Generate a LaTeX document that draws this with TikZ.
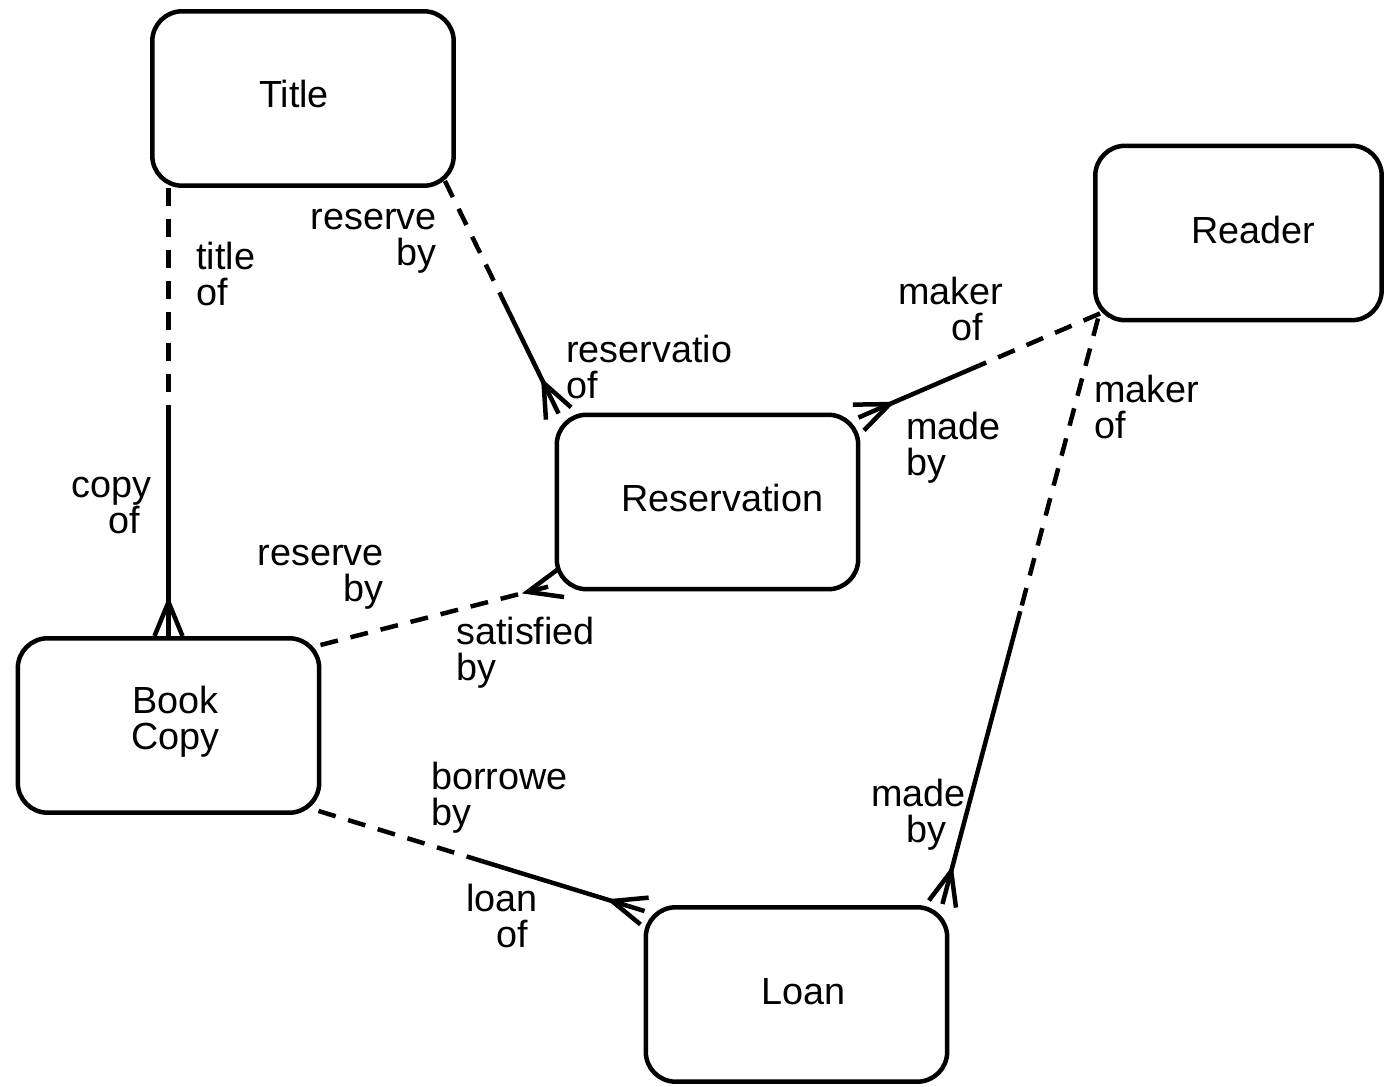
\documentclass[tikz,border=0pt]{standalone}
\usepackage{fontspec}
\setmainfont{Liberation Sans}
\usetikzlibrary{calc}

% crow's foot at #1, line coming from #2
\newcommand\crowfoot[2]{%
  \draw ($(#1)!0.28cm!90:(#2)$) -- ($(#1)!0.68cm!(#2)$) -- ($(#1)!0.28cm!-90:(#2)$);}

\begin{document}
\begin{tikzpicture}[x=0.02cm,y=-0.02cm,line width=0.09cm]
  \tikzset{entity/.style={draw, rounded corners=0.6cm, minimum width=6.03cm,
      minimum height=3.49cm, inner sep=0},
    enttext/.style={font=\fontsize{21.5}{20.5}\selectfont, align=center},
    roletext/.style={font=\fontsize{21.5}{20.5}\selectfont, inner sep=0,
      anchor=base west, align=left},
    opt/.style={dash pattern=on 0.36cm off 0.26cm}}
  \useasboundingbox (0,0) rectangle (1384,1087);

  \node[entity, label={[enttext, shift={(-9,-4)}]center:Title}] (title) at (303,98.5) {};
  \node[entity, minimum width=5.73cm, label={[enttext, shift={(15,-3)}]center:Reader}] (reader) at (1238.5,233) {};
  \node[entity, label={[enttext, shift={(15,-4)}]center:Reservation}] (resv) at (707.5,502) {};
  \node[entity, label={[enttext, shift={(7,-4)}]center:Book\\Copy}] (bcopy) at (168.5,725.5) {};
  \node[entity, label={[enttext, shift={(7,-3)}]center:Loan}] (loan) at (796.5,994.5) {};

  % Title -- Book Copy
  \coordinate (tb-s) at (bcopy.north |- title.south);
  \coordinate (tb-e) at (bcopy.north);
  \draw[opt] (tb-s) -- ($(tb-s)!.5!(tb-e)$);
  \draw ($(tb-s)!.5!(tb-e)$) -- (tb-e);
  \crowfoot{tb-e}{tb-s}

  % Title -- Reservation
  \coordinate (tr-s) at ([shift={(-11,-7)}]title.south east);
  \coordinate (tr-e) at ([shift={(4,1)}]resv.north west);
  \draw[opt] (tr-s) -- ($(tr-s)!.5!(tr-e)$);
  \draw ($(tr-s)!.5!(tr-e)$) -- (tr-e);
  \crowfoot{tr-e}{tr-s}

  % Reader -- Reservation
  \coordinate (rr-s) at ([shift={(7,-9)}]reader.south west);
  \coordinate (rr-e) at ([shift={(-2,5)}]resv.north east);
  \draw[opt] (rr-s) -- ($(rr-s)!.5!(rr-e)$);
  \draw ($(rr-s)!.5!(rr-e)$) -- (rr-e);
  \crowfoot{rr-e}{rr-s}

  % Reader -- Loan
  \coordinate (rl-s) at ([shift={(5,-4)}]reader.south west);
  \coordinate (rl-e) at ([shift={(-7,-1)}]loan.north east);
  \draw[opt] (rl-s) -- ($(rl-s)!.5!(rl-e)$);
  \draw ($(rl-s)!.5!(rl-e)$) -- (rl-e);
  \crowfoot{rl-e}{rl-s}

  % Book Copy -- Reservation
  \coordinate (br-s) at ([shift={(-1,9)}]bcopy.north east);
  \coordinate (br-e) at ([shift={(6,-8)}]resv.south west);
  \draw[opt] (br-s) -- (br-e);
  \crowfoot{br-e}{br-s}

  % Book Copy -- Loan
  \coordinate (bl-s) at ([shift={(-3,-4)}]bcopy.south east);
  \coordinate (bl-e) at ([shift={(1,6)}]loan.north west);
  \draw[opt] (bl-s) -- ($(bl-s)!.5!(bl-e)$);
  \draw ($(bl-s)!.5!(bl-e)$) -- (bl-e);
  \crowfoot{bl-e}{bl-s}

  % role names (base = last line)
  \node[roletext] (tb-a) at (194,306) {title\\of};
  \node[roletext] (tb-b) at (69,534) {copy\\\hspace*{0.74cm}of};
  \node[roletext, anchor=base east, align=right] (tr-a) at (439,266) {reserve\\by};
  \node[roletext] (tr-b) at (564,399) {reservatio\\of};
  \node[roletext] (rr-a) at (896,341) {maker\\\hspace*{1.06cm}of};
  \node[roletext] (rr-b) at (904,476) {made\\by};
  \node[roletext] (rl-a) at (1092,439) {maker\\of};
  \node[roletext] (rl-b) at (869,843) {made\\\hspace*{0.7cm}by};
  \node[roletext, anchor=base east, align=right] (br-a) at (386,602) {reserve\\by};
  \node[roletext] (br-b) at (454,681) {satisfied\\by};
  \node[roletext] (bl-a) at (429,826) {borrowe\\by};
  \node[roletext] (bl-b) at (464,948) {loan\\\hspace*{0.6cm}of};
\end{tikzpicture}
\end{document}
